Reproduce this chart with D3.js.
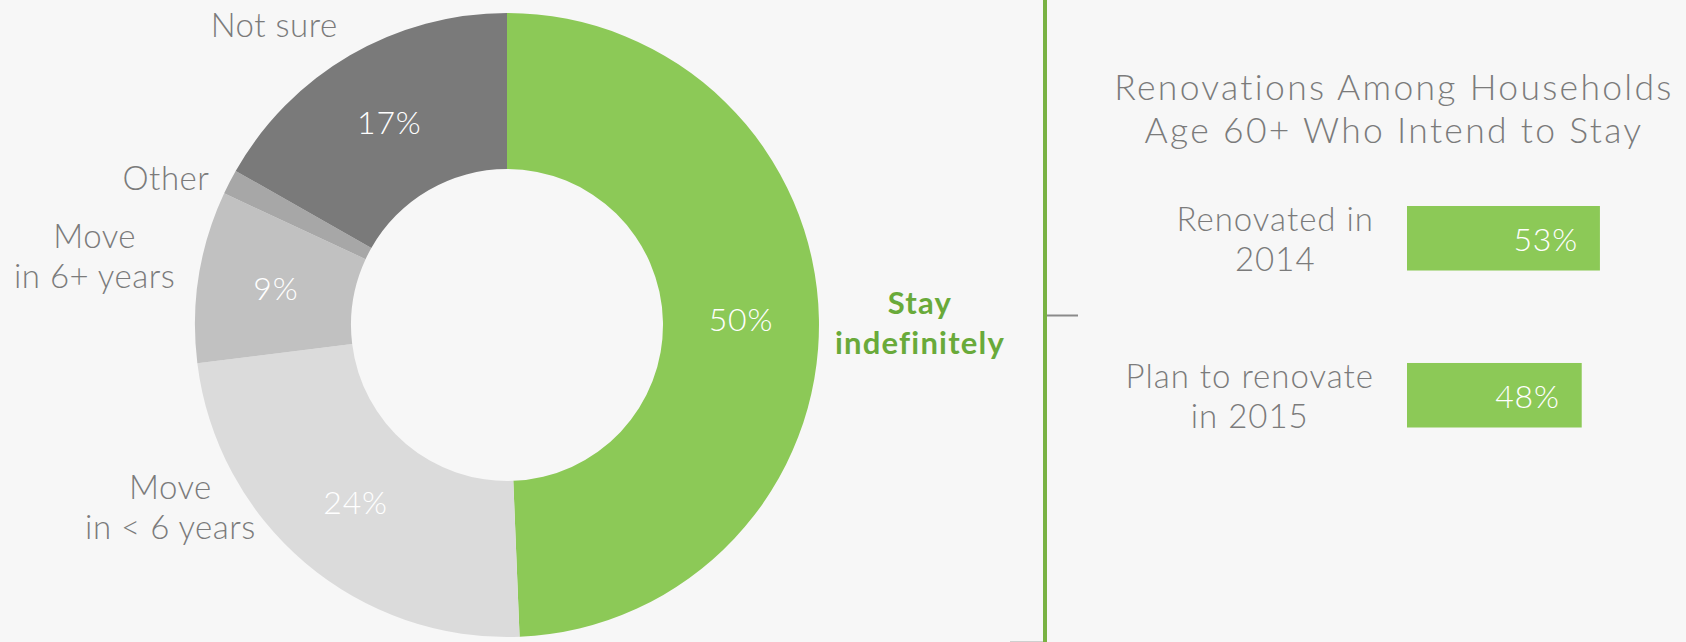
<!DOCTYPE html>
<html>
<head>
<meta charset="utf-8">
<script src="https://cdn.jsdelivr.net/npm/d3@7"></script>
<style>
  html, body { margin: 0; padding: 0; background: #f7f7f7; }
  svg { display: block; }
  text { font-family: "Lato", "Open Sans", sans-serif; font-weight: 300; }
</style>
</head>
<body>
<svg id="chart" width="1686" height="642"></svg>
<script>
// Intentions of households age 60+ (share of respondents)
const intentCategories = ["Stay indefinitely", "Move in < 6 years", "Move in 6+ years", "Other", "Not sure"];
const intentValues = [50, 24, 9, 1.3, 17];
const intentLabels = ["50%", "24%", "9%", "", "17%"];
const intentNames = [["Stay", "indefinitely"], ["Move", "in < 6 years"], ["Move", "in 6+ years"], ["Other"], ["Not sure"]];

// Renovations among households age 60+ who intend to stay
const renoCategories = ["Renovated in 2014", "Plan to renovate in 2015"];
const renoValues = [53, 48];
const renoNames = [["Renovated in", "2014"], ["Plan to renovate", "in 2015"]];

const svg = d3.select("#chart");
const W = 1686, H = 642;

svg.append("rect").attr("width", W).attr("height", H).attr("fill", "#f7f7f7");

const textGrey = "#7b7b7b";
const green = "#8cc957";
const darkGreen = "#69aa3a";
const labelSize = 33;
const labelSpacing = 0.5;
const pctSize = 32;
const titleSize = 35.5;

// ---------- Donut ----------
const cx = 507, cy = 325, outerR = 312, innerR = 156;
const color = d3.scaleOrdinal()
  .domain(intentCategories)
  .range([green, "#dbdbdb", "#c1c1c1", "#a7a7a7", "#7a7a7a"]);

const pie = d3.pie().sort(null).value(d => d.value).startAngle(0).endAngle(2 * Math.PI);
const arcs = pie(intentCategories.map((c, i) => ({
  category: c, value: intentValues[i], label: intentLabels[i], name: intentNames[i]
})));

const arc = d3.arc().innerRadius(innerR).outerRadius(outerR);
const midArc = d3.arc().innerRadius((innerR + outerR) / 2).outerRadius((innerR + outerR) / 2);

const donut = svg.append("g").attr("transform", `translate(${cx},${cy})`);
donut.selectAll("path.slice")
  .data(arcs)
  .join("path")
  .attr("class", "slice")
  .attr("d", arc)
  .attr("fill", d => color(d.data.category));

// value labels on the ring
donut.selectAll("text.pct")
  .data(arcs.filter(d => d.data.label))
  .join("text")
  .attr("class", "pct")
  .attr("x", d => midArc.centroid(d)[0])
  .attr("y", d => midArc.centroid(d)[1] + 11)
  .attr("text-anchor", "middle")
  .attr("font-size", pctSize)
  .attr("letter-spacing", 0.8)
  .attr("fill", "#ffffff")
  .text(d => d.data.label);

// category names around the ring: polar placement (degrees clockwise from top, radius)
const namePlacement = {
  "Stay indefinitely": [89.7, 413],
  "Move in < 6 years": [241.5, 383],
  "Move in 6+ years": [279.4, 418],
  "Other": [293.2, 371],
  "Not sure": [322.1, 379]
};
const lineH = 40;

function multiline(sel, lines, x, yCenter) {
  const n = lines.length;
  const first = yCenter - (n - 1) * lineH / 2 + 11;
  lines.forEach((t, i) => {
    sel.append("tspan").attr("x", x).attr("y", first + i * lineH).text(t);
  });
}

arcs.forEach(d => {
  const [deg, r] = namePlacement[d.data.category];
  const [px, py] = d3.pointRadial(deg * Math.PI / 180, r);
  const isStay = d.data.category === "Stay indefinitely";
  const t = donut.append("text")
    .attr("text-anchor", "middle")
    .attr("font-size", isStay ? 31 : labelSize)
    .attr("letter-spacing", isStay ? 1.2 : labelSpacing)
    .attr("fill", isStay ? darkGreen : textGrey)
    .style("font-weight", isStay ? 700 : 300);
  multiline(t, d.data.name, px, py);
});

// ---------- Divider ----------
const divX = 1045;
svg.append("line")
  .attr("x1", divX).attr("x2", divX).attr("y1", 0).attr("y2", H)
  .attr("stroke", "#79b243").attr("stroke-width", 4);
svg.append("line")
  .attr("x1", divX + 2).attr("x2", 1078).attr("y1", 315.5).attr("y2", 315.5)
  .attr("stroke", "#8a8a8a").attr("stroke-width", 2);
svg.append("line")
  .attr("x1", 1010).attr("x2", divX - 2).attr("y1", 641.5).attr("y2", 641.5)
  .attr("stroke", "#cfcfcf").attr("stroke-width", 1);

// ---------- Renovation bars ----------
const titleLines = ["Renovations Among Households", "Age 60+ Who Intend to Stay"];
const title = svg.append("text")
  .attr("text-anchor", "middle")
  .attr("font-size", titleSize)
  .attr("letter-spacing", 2.3)
  .attr("fill", textGrey);
titleLines.forEach((t, i) => {
  title.append("tspan").attr("x", 1394).attr("y", 100 + i * 43).text(t);
});

const x = d3.scaleLinear().domain([0, 100]).range([1407, 1771]);
const y = d3.scaleBand().domain(renoCategories).range([206, 427.5]).paddingInner(0.589).paddingOuter(0);

const bars = svg.append("g");
bars.selectAll("rect")
  .data(renoCategories)
  .join("rect")
  .attr("x", x(0))
  .attr("y", d => y(d))
  .attr("width", (d, i) => x(renoValues[i]) - x(0))
  .attr("height", y.bandwidth())
  .attr("fill", green);

bars.selectAll("text.val")
  .data(renoCategories)
  .join("text")
  .attr("class", "val")
  .attr("x", (d, i) => x(renoValues[i]) - 22)
  .attr("y", d => y(d) + y.bandwidth() / 2 + 13)
  .attr("text-anchor", "end")
  .attr("font-size", pctSize)
  .attr("letter-spacing", 0.8)
  .attr("fill", "#ffffff")
  .text((d, i) => renoValues[i] + "%");

// category labels: lines centred on each other, block right-aligned next to the bars
const labelRight = 1374;
renoCategories.forEach((c, i) => {
  const g = bars.append("text")
    .attr("text-anchor", "middle")
    .attr("font-size", labelSize)
    .attr("letter-spacing", 1.0)
    .attr("fill", textGrey);
  const mid = y(c) + y.bandwidth() / 2;
  const spans = renoNames[i].map((t, j) =>
    g.append("tspan").attr("y", mid - 7 + j * lineH).text(t));
  const widest = d3.max(spans, s => s.node().getComputedTextLength());
  spans.forEach(s => s.attr("x", labelRight - widest / 2));
});
</script>
</body>
</html>
